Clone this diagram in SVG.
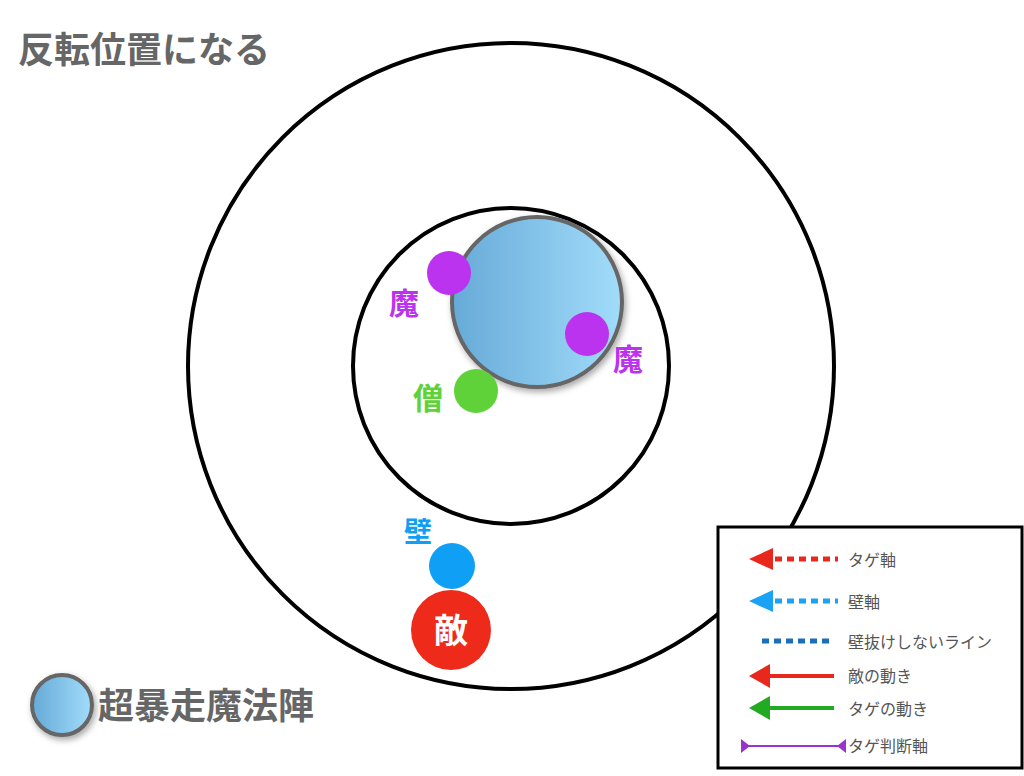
<svg xmlns="http://www.w3.org/2000/svg" width="1024" height="776" viewBox="0 0 1024 776">
<style>
text{font-family:"Noto Sans CJK JP","Noto Sans",sans-serif;font-weight:bold}
.ring{fill:none;stroke:#000;stroke-width:4}
.lg{font-size:16px;font-weight:normal;fill:#555}
</style>
<defs>
<linearGradient id="bl" x1="0" x2="1" y1="0" y2="0"><stop offset="0" stop-color="#66aad8"/><stop offset="1" stop-color="#a2dcfa"/></linearGradient>
<filter id="sh" x="-20%" y="-20%" width="140%" height="140%"><feDropShadow dx="2" dy="3" stdDeviation="3" flood-opacity="0.35"/></filter>
</defs>
<rect width="1024" height="776" fill="#fff"/>
<text x="18" y="63" font-size="36" fill="#666">反転位置になる</text>
<g id="outer"><circle class="ring" cx="511" cy="366" r="323"/></g>
<g id="inner"><circle class="ring" cx="511" cy="366" r="158"/></g>
<g id="magic"><circle cx="537" cy="302" r="85" fill="url(#bl)" stroke="#666" stroke-width="4" filter="url(#sh)"/></g>
<g id="ma1"><circle cx="449" cy="273" r="22" fill="#bb33ee"/><text x="404" y="314" font-size="30" fill="#bb33ee" text-anchor="middle">魔</text></g>
<g id="ma2"><circle cx="587" cy="334" r="22" fill="#bb33ee"/><text x="628" y="370" font-size="30" fill="#bb33ee" text-anchor="middle">魔</text></g>
<g id="so"><circle cx="476" cy="391" r="22" fill="#5fd23a"/><text x="428" y="409" font-size="30" fill="#5fd23a" text-anchor="middle">僧</text></g>
<g id="wall"><circle cx="452" cy="566" r="23" fill="#0fa0f5"/><text x="418" y="542" font-size="28" fill="#0fa0f5" text-anchor="middle">壁</text></g>
<g id="enemy"><circle cx="451" cy="630" r="40" fill="#ee2a1a"/><text x="451" y="643" font-size="34" fill="#fff" text-anchor="middle">敵</text></g>
<g id="key"><circle cx="62" cy="705" r="30" fill="url(#bl)" stroke="#666" stroke-width="4" filter="url(#sh)"/><text x="98" y="719" font-size="36" fill="#666">超暴走魔法陣</text></g>
<g id="legend">
<rect x="718" y="527" width="304" height="241" fill="#fff" stroke="#000" stroke-width="3"/>
<polygon points="749,559 773,548 773,570" fill="#e8281c"/><line x1="775" y1="559" x2="838" y2="559" stroke="#e8281c" stroke-width="5" stroke-dasharray="7,5"/>
<text class="lg" x="848" y="566">タゲ軸</text>
<polygon points="749,601 773,590 773,612" fill="#1aa2f5"/><line x1="775" y1="601" x2="838" y2="601" stroke="#1aa2f5" stroke-width="5" stroke-dasharray="7,5"/>
<text class="lg" x="848" y="608">壁軸</text>
<line x1="762" y1="641" x2="830" y2="641" stroke="#1a6fb8" stroke-width="5" stroke-dasharray="7,5"/>
<text class="lg" x="848" y="648">壁抜けしないライン</text>
<polygon points="749,676 770,664 770,688" fill="#e8281c"/><line x1="768" y1="676" x2="834" y2="676" stroke="#e8281c" stroke-width="4"/>
<text class="lg" x="848" y="682">敵の動き</text>
<polygon points="749,708 770,696 770,720" fill="#22aa22"/><line x1="768" y1="708" x2="834" y2="708" stroke="#22aa22" stroke-width="4"/>
<text class="lg" x="848" y="715">タゲの動き</text>
<line x1="741" y1="746" x2="846" y2="746" stroke="#9933cc" stroke-width="2"/>
<polygon points="741,739 741,753 750,746" fill="#9933cc"/><polygon points="846,739 846,753 837,746" fill="#9933cc"/>
<text class="lg" x="848" y="752">タゲ判断軸</text>
</g>
</svg>
